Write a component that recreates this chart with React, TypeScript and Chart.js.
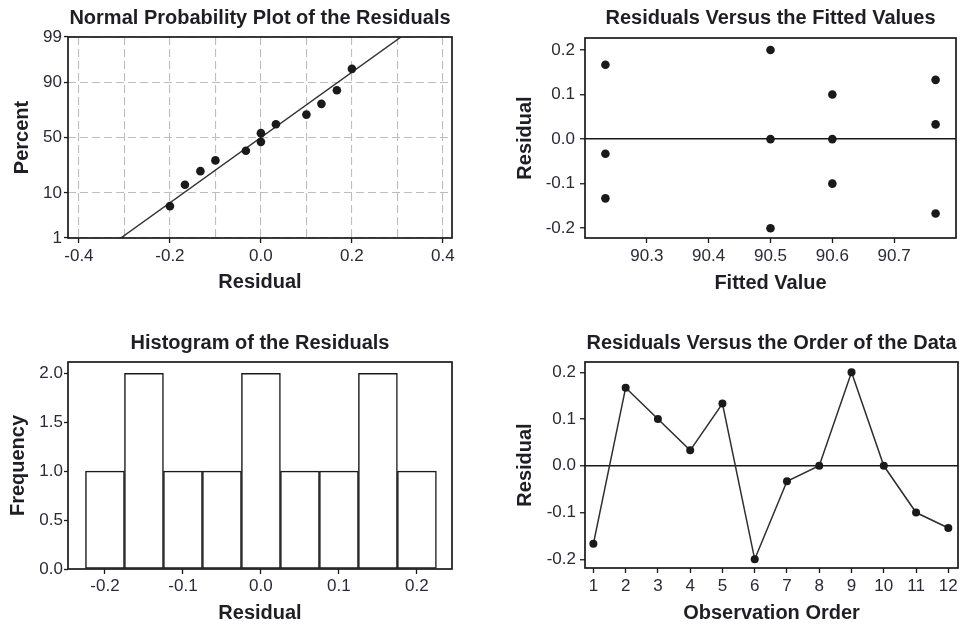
import React, { useEffect, useRef } from 'react';
import { Chart, registerables, LinearScale } from 'chart.js';

// ---------------- data ----------------
// Normal probability plot (sorted residuals and their plotting percents)
const npResiduals = [-0.2, -0.167, -0.133, -0.1, -0.033, 0.0, 0.0, 0.033, 0.1, 0.133, 0.167, 0.2];
const npPercent = [5.6, 13.7, 21.8, 29.8, 37.9, 46.0, 54.0, 62.1, 70.2, 78.2, 86.3, 94.4];
const npFitResidual = [-0.308, 0.308];
const npFitPercent = [1, 99];
const npXGrid = [-0.4, -0.3, -0.2, -0.1, 0.0, 0.1, 0.2, 0.3, 0.4];
const npXLabels = [-0.4, -0.2, 0.0, 0.2, 0.4];
const npYTicks = [1, 10, 50, 90, 99];

// Residuals in observation order, with their fitted values
const observationOrder = [1, 2, 3, 4, 5, 6, 7, 8, 9, 10, 11, 12];
const residuals = [-0.167, 0.167, 0.1, 0.033, 0.133, -0.2, -0.033, 0.0, 0.2, 0.0, -0.1, -0.133];
const fittedValues = [90.767, 90.233, 90.6, 90.767, 90.767, 90.5, 90.233, 90.5, 90.5, 90.6, 90.6, 90.233];
const fittedTicks = [90.3, 90.4, 90.5, 90.6, 90.7];
const residualTicks = [-0.2, -0.1, 0.0, 0.1, 0.2];

// Histogram
const binCenters = [-0.2, -0.15, -0.1, -0.05, 0.0, 0.05, 0.1, 0.15, 0.2];
const binCounts = [1, 2, 1, 1, 2, 1, 1, 2, 1];
const histXTicks = [-0.2, -0.1, 0.0, 0.1, 0.2];
const histYTicks = [0, 0.5, 1.0, 1.5, 2.0];

// ---------------- probability scale ----------------
function probit(p: number): number {
  const a = [-3.969683028665376e1, 2.209460984245205e2, -2.759285104469687e2, 1.38357751867269e2, -3.066479806614716e1, 2.506628277459239];
  const b = [-5.447609879822406e1, 1.615858368580409e2, -1.556989798598866e2, 6.680131188771972e1, -1.328068155288572e1];
  const c = [-7.784894002430293e-3, -3.223964580411365e-1, -2.400758277161838, -2.549732539343734, 4.374664141464968, 2.938163982698783];
  const d = [7.784695709041462e-3, 3.224671290700398e-1, 2.445134137142996, 3.754408661907416];
  const pl = 0.02425;
  if (p < pl) {
    const q = Math.sqrt(-2 * Math.log(p));
    return (((((c[0] * q + c[1]) * q + c[2]) * q + c[3]) * q + c[4]) * q + c[5]) / ((((d[0] * q + d[1]) * q + d[2]) * q + d[3]) * q + 1);
  }
  if (p > 1 - pl) {
    const q = Math.sqrt(-2 * Math.log(1 - p));
    return -(((((c[0] * q + c[1]) * q + c[2]) * q + c[3]) * q + c[4]) * q + c[5]) / ((((d[0] * q + d[1]) * q + d[2]) * q + d[3]) * q + 1);
  }
  const q = p - 0.5;
  const r = q * q;
  return ((((((a[0] * r + a[1]) * r + a[2]) * r + a[3]) * r + a[4]) * r + a[5]) * q) / (((((b[0] * r + b[1]) * r + b[2]) * r + b[3]) * r + b[4]) * r + 1);
}

class ProbabilityScale extends LinearScale {
  static id = 'probability';
  static defaults = {};
  determineDataLimits() {
    const o: any = this.options;
    this.min = probit(o.min / 100);
    this.max = probit(o.max / 100);
  }
  buildTicks() {
    return [];
  }
  getPixelForValue(value: number) {
    return super.getPixelForValue(probit(value / 100));
  }
}

Chart.register(...registerables, ProbabilityScale as any);

// ---------------- styles ----------------
const FONT = "'Liberation Sans', Arial, Helvetica, sans-serif";
const TEXT = '#1e1e24';
const TICK_TEXT = '#2a2a38';
const INK = '#1a1a1a';
const tickFont = { family: FONT, size: 17 };
const boldFont = { family: FONT, size: 20, weight: 'bold' as const, lineHeight: 1.2 };

const framePlugin = {
  id: 'frame',
  afterDraw(chart: any) {
    const { ctx, chartArea: a } = chart;
    ctx.save();
    ctx.strokeStyle = INK;
    ctx.lineWidth = 1.7;
    ctx.strokeRect(a.left, a.top, a.right - a.left, a.bottom - a.top);
    ctx.restore();
  },
};

const setTicks = (vals: number[]) => (s: any) => {
  s.ticks = vals.map((v) => ({ value: v }));
};

function title(text: string, top: number, bottom: number) {
  return { display: true, text, color: TEXT, font: boldFont, padding: { top, bottom }, fullSize: false };
}

function base(rightPad: number, ttl: any) {
  return {
    responsive: false,
    animation: false as const,
    events: [] as any[],
    layout: { padding: { left: 0, top: 0, right: rightPad, bottom: 0 } },
    plugins: { legend: { display: false }, tooltip: { enabled: false }, title: ttl },
  };
}

function axisTitle(text: string, pad: any) {
  return { display: true, text, color: TEXT, font: boldFont, padding: pad };
}

// ---------------- chart configs ----------------
function normalPlot(): any {
  return {
    type: 'line',
    data: {
      datasets: [
        {
          data: npResiduals.map((x, i) => ({ x, y: npPercent[i] })),
          showLine: false,
          pointRadius: 4.3,
          pointBackgroundColor: INK,
          pointBorderWidth: 0,
          order: 0,
        },
        {
          data: npFitResidual.map((x, i) => ({ x, y: npFitPercent[i] })),
          borderColor: '#333333',
          borderWidth: 1.5,
          pointRadius: 0,
          order: 1,
        },
      ],
    },
    options: {
      ...base(8, title('Normal Probability Plot of the Residuals', 6, 7)),
      scales: {
        x: {
          type: 'linear',
          min: -0.424,
          max: 0.42,
          afterBuildTicks: setTicks(npXGrid),
          ticks: {
            autoSkip: false,
            maxRotation: 0,
            font: tickFont,
            color: TICK_TEXT,
            padding: 3.5,
            callback: (v: number) => (npXLabels.some((l) => Math.abs(l - v) < 1e-9) ? v.toFixed(1) : ''),
          },
          grid: {
            color: '#bdbdbd',
            lineWidth: 1.1,
            tickLength: 5,
            tickWidth: 1.3,
            tickColor: (c: any) =>
              c.tick && npXLabels.some((l) => Math.abs(l - c.tick.value) < 1e-9) ? INK : 'rgba(0,0,0,0)',
          },
          border: { display: false, dash: [8, 4] },
          title: axisTitle('Residual', { top: 0, bottom: 0 }),
          afterFit: (s: any) => {
            s.height = 56;
          },
        },
        y: {
          type: 'probability',
          min: 1,
          max: 99,
          afterBuildTicks: setTicks(npYTicks),
          ticks: { font: tickFont, color: TICK_TEXT, padding: 2, callback: (v: number) => String(v) },
          grid: { color: '#bdbdbd', lineWidth: 1.1, tickLength: 4, tickWidth: 1.3, tickColor: INK },
          border: { display: false, dash: [8, 4] },
          title: axisTitle('Percent', { top: 10, bottom: 0 }),
          afterFit: (s: any) => {
            s.width = 68;
          },
        },
      },
    },
    plugins: [framePlugin],
  };
}

function fittedPlot(): any {
  return {
    type: 'scatter',
    data: {
      datasets: [
        {
          data: fittedValues.map((x, i) => ({ x, y: residuals[i] })),
          pointRadius: 4.3,
          pointBackgroundColor: INK,
          pointBorderWidth: 0,
        },
      ],
    },
    options: {
      ...base(8, title('Residuals Versus the Fitted Values', 6, 8)),
      scales: {
        x: {
          type: 'linear',
          min: 90.2,
          max: 90.8,
          afterBuildTicks: setTicks(fittedTicks),
          ticks: { font: tickFont, color: TICK_TEXT, padding: 3.5, callback: (v: number) => v.toFixed(1) },
          grid: { drawOnChartArea: false, tickLength: 5, tickWidth: 1.3, tickColor: INK },
          border: { display: false },
          title: axisTitle('Fitted Value', { top: 0, bottom: 0 }),
          afterFit: (s: any) => {
            s.height = 57;
          },
        },
        y: {
          type: 'linear',
          min: -0.222,
          max: 0.227,
          afterBuildTicks: setTicks(residualTicks),
          ticks: { font: tickFont, color: TICK_TEXT, padding: 5, callback: (v: number) => v.toFixed(1) },
          grid: {
            color: (c: any) => (c.tick && Math.abs(c.tick.value) < 1e-9 ? INK : 'rgba(0,0,0,0)'),
            lineWidth: 1.5,
            tickLength: 5,
            tickWidth: 1.3,
            tickColor: INK,
          },
          border: { display: false },
          title: axisTitle('Residual', { top: 13, bottom: 0 }),
          afterFit: (s: any) => {
            s.width = 85;
          },
        },
      },
    },
    plugins: [framePlugin],
  };
}

function histogram(): any {
  return {
    type: 'bar',
    data: {
      datasets: [
        {
          data: binCenters.map((x, i) => ({ x, y: binCounts[i] })),
          backgroundColor: '#ffffff',
          borderColor: INK,
          borderWidth: 1.5,
          borderSkipped: false,
          barPercentage: 1,
          categoryPercentage: 1,
        },
      ],
    },
    options: {
      ...base(8, title('Histogram of the Residuals', 6, 7)),
      scales: {
        x: {
          type: 'linear',
          offset: false,
          min: -0.2474,
          max: 0.245,
          afterBuildTicks: setTicks(histXTicks),
          ticks: { font: tickFont, color: TICK_TEXT, padding: 2.5, callback: (v: number) => v.toFixed(1) },
          grid: { offset: false, drawOnChartArea: false, tickLength: 5, tickWidth: 1.3, tickColor: INK },
          border: { display: false },
          title: axisTitle('Residual', { top: 0, bottom: 0 }),
          afterFit: (s: any) => {
            s.height = 56;
          },
        },
        y: {
          type: 'linear',
          min: 0,
          max: 2.115,
          afterBuildTicks: setTicks(histYTicks),
          ticks: { font: tickFont, color: TICK_TEXT, padding: 1, callback: (v: number) => v.toFixed(1) },
          grid: { drawOnChartArea: false, tickLength: 4, tickWidth: 1.3, tickColor: INK },
          border: { display: false },
          title: axisTitle('Frequency', { top: 6, bottom: 0 }),
          afterFit: (s: any) => {
            s.width = 68;
          },
        },
      },
    },
    plugins: [framePlugin],
  };
}

function orderPlot(): any {
  return {
    type: 'line',
    data: {
      datasets: [
        {
          data: observationOrder.map((x, i) => ({ x, y: residuals[i] })),
          borderColor: '#2e2e2e',
          borderWidth: 1.5,
          pointRadius: 4,
          pointBackgroundColor: INK,
          pointBorderWidth: 0,
          tension: 0,
        },
      ],
    },
    options: {
      ...base(6, title('Residuals Versus the Order of the Data', 6, 7)),
      scales: {
        x: {
          type: 'linear',
          min: 0.74,
          max: 12.3,
          afterBuildTicks: setTicks(observationOrder),
          ticks: { autoSkip: false, maxRotation: 0, font: tickFont, color: TICK_TEXT, padding: 3.5, callback: (v: number) => String(v) },
          grid: { drawOnChartArea: false, tickLength: 5, tickWidth: 1.3, tickColor: INK },
          border: { display: false },
          title: axisTitle('Observation Order', { top: 0, bottom: 0 }),
          afterFit: (s: any) => {
            s.height = 57;
          },
        },
        y: {
          type: 'linear',
          min: -0.2186,
          max: 0.222,
          afterBuildTicks: setTicks(residualTicks),
          ticks: { font: tickFont, color: TICK_TEXT, padding: 4, callback: (v: number) => v.toFixed(1) },
          grid: {
            color: (c: any) => (c.tick && Math.abs(c.tick.value) < 1e-9 ? INK : 'rgba(0,0,0,0)'),
            lineWidth: 1.5,
            tickLength: 5,
            tickWidth: 1.3,
            tickColor: INK,
          },
          border: { display: false },
          title: axisTitle('Residual', { top: 13, bottom: 0 }),
          afterFit: (s: any) => {
            s.width = 85;
          },
        },
      },
    },
    plugins: [framePlugin],
  };
}

// ---------------- components ----------------
type PanelProps = { left: number; top: number; width: number; height: number; make: () => any };

function Panel({ left, top, width, height, make }: PanelProps) {
  const ref = useRef<HTMLCanvasElement | null>(null);
  useEffect(() => {
    if (!ref.current) return;
    const chart = new Chart(ref.current, make());
    return () => chart.destroy();
  }, []);
  return (
    <canvas
      ref={ref}
      width={width}
      height={height}
      style={{ position: 'absolute', left, top, width, height, display: 'block' }}
    />
  );
}

export default function App() {
  return (
    <div
      style={{
        position: 'absolute',
        left: 0,
        top: 0,
        width: 964,
        height: 628,
        background: '#ffffff',
        overflow: 'hidden',
      }}
    >
      <Panel left={0} top={0} width={460} height={294} make={normalPlot} />
      <Panel left={500} top={0} width={464} height={295} make={fittedPlot} />
      <Panel left={0} top={325} width={460} height={300} make={histogram} />
      <Panel left={500} top={325} width={464} height={300} make={orderPlot} />
    </div>
  );
}
